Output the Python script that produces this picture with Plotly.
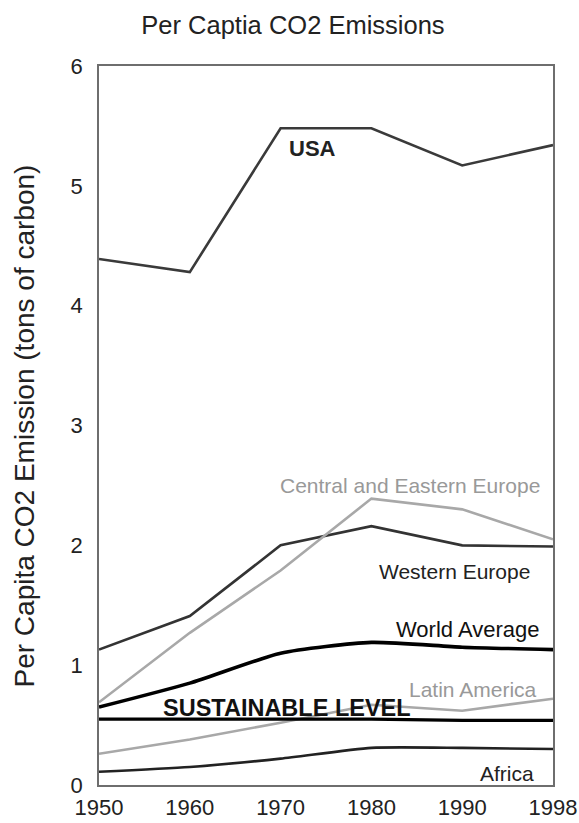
import plotly.graph_objects as go

years = ["1950", "1960", "1970", "1980", "1990", "1998"]
usa = [4.39, 4.28, 5.48, 5.48, 5.17, 5.34]
western_europe = [1.13, 1.41, 2.00, 2.16, 2.00, 1.99]
central_eastern_europe = [0.69, 1.27, 1.79, 2.39, 2.30, 2.05]
world_average = [0.65, 0.85, 1.10, 1.19, 1.15, 1.13]
latin_america = [0.26, 0.38, 0.52, 0.67, 0.62, 0.72]
sustainable_level = [0.55, 0.55, 0.55, 0.55, 0.54, 0.54]
africa = [0.11, 0.15, 0.22, 0.31, 0.31, 0.30]

FONT = "Liberation Sans, Arial, sans-serif"

series = [
    ("USA", usa, "#3a3a3a", 2.6, "linear"),
    ("Western Europe", western_europe, "#333333", 2.6, "linear"),
    ("Central and Eastern Europe", central_eastern_europe, "#a8a8a8", 2.6, "linear"),
    ("World Average", world_average, "#000000", 3.6, "spline"),
    ("Latin America", latin_america, "#a8a8a8", 2.6, "linear"),
    ("Sustainable Level", sustainable_level, "#000000", 3.2, "linear"),
    ("Africa", africa, "#222222", 2.6, "spline"),
]

fig = go.Figure()
for name, vals, color, width, shape in series:
    fig.add_trace(go.Scatter(
        x=list(range(len(years))), y=vals, mode="lines", name=name,
        line=dict(color=color, width=width, shape=shape, smoothing=0.6),
        showlegend=False, hoverinfo="skip",
    ))

labels = [
    ("<b>USA</b>", 2.355, 5.31, "#222222", 22),
    ("Central and Eastern Europe", 3.43, 2.50, "#999999", 21),
    ("Western Europe", 3.92, 1.78, "#222222", 21),
    ("World Average", 4.066, 1.30, "#111111", 22),
    ("Latin America", 4.12, 0.80, "#999999", 21),
    ("<b>SUSTAINABLE LEVEL</b>", 2.07, 0.643, "#111111", 23.5),
    ("Africa", 4.496, 0.10, "#222222", 21),
]
for text, x, y, color, size in labels:
    fig.add_annotation(x=x, y=y, xref="x", yref="y", text=text, showarrow=False,
                       font=dict(family=FONT, size=size, color=color),
                       xanchor="center", yanchor="middle")

# y-axis title placed as rotated text
fig.add_annotation(x=-0.163, y=0.50, xref="paper", yref="paper",
                   text="Per Capita CO2 Emission (tons of carbon)", textangle=-90,
                   showarrow=False, xanchor="center", yanchor="middle",
                   font=dict(family=FONT, size=28, color="#222222"))

fig.update_layout(
    width=579, height=823,
    margin=dict(l=99, r=26, t=66, b=38, autoexpand=False),
    paper_bgcolor="white", plot_bgcolor="white",
    font=dict(family=FONT, color="#222222"),
    title=dict(text="Per Captia CO2 Emissions", x=0.506, xanchor="center",
               y=0.970, yanchor="middle",
               font=dict(family=FONT, size=25.5, color="#222222")),
)
fig.update_xaxes(
    tickmode="array", tickvals=list(range(len(years))), ticktext=years,
    range=[0, 5], showgrid=False, zeroline=False, automargin=False,
    showline=True, mirror=True, linecolor="#6e6e6e", linewidth=1.5,
    ticks="", tickfont=dict(family=FONT, size=22, color="#222222"), ticklabelstandoff=2,
)
fig.update_yaxes(
    range=[0, 6], tickvals=[0, 1, 2, 3, 4, 5, 6], showgrid=False, zeroline=False,
    automargin=False,
    showline=True, mirror=True, linecolor="#6e6e6e", linewidth=1.5,
    ticks="", tickfont=dict(family=FONT, size=22, color="#222222"), ticklabelstandoff=10,
)

fig.write_html(
    "out.html",
    config={"displayModeBar": False},
    post_script="document.body.style.margin='0';document.body.style.overflow='hidden';",
)
